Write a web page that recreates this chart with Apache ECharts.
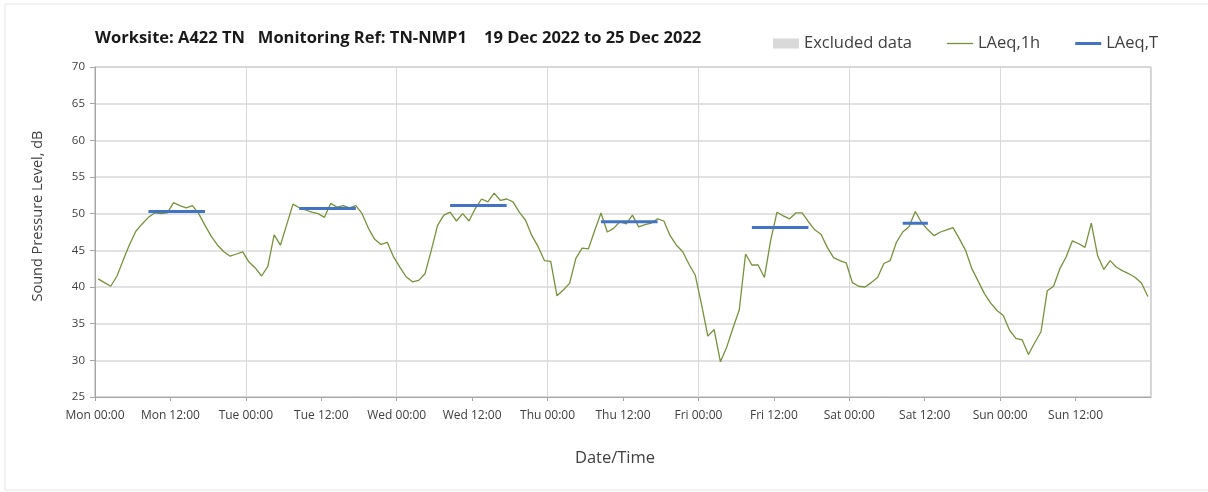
<!DOCTYPE html>
<html>
<head>
<meta charset="utf-8">
<script src="https://cdn.jsdelivr.net/npm/echarts@6/dist/echarts.min.js"></script>
<style>
html,body{margin:0;padding:0;background:#fff;}
#chart{width:1208px;height:492px;}
</style>
</head>
<body>
<div id="chart"></div>
<script>
// ---- data ----
const titleText = 'Worksite: A422 TN   Monitoring Ref: TN-NMP1    19 Dec 2022 to 25 Dec 2022';
const dayNames = ['Mon', 'Tue', 'Wed', 'Thu', 'Fri', 'Sat', 'Sun'];
const hourLabels = ['00:00', '12:00'];
const yTicks = [25, 30, 35, 40, 45, 50, 55, 60, 65, 70];

// hourly LAeq,1h values, Mon 00:00 .. Sun 23:00
const laeq1hMon = [41.1, 40.6, 40.1, 41.5, 43.7, 45.8, 47.6, 48.6, 49.5, 50.1, 50.0, 50.1, 51.5, 51.1, 50.8, 51.1, 50.0, 48.4, 46.9, 45.7, 44.8, 44.2, 44.5, 44.8];
const laeq1hTue = [43.4, 42.6, 41.5, 42.8, 47.1, 45.7, 48.5, 51.3, 50.8, 50.5, 50.2, 50.0, 49.5, 51.4, 50.9, 51.1, 50.8, 51.1, 50.0, 48.0, 46.5, 45.8, 46.1, 44.1];
const laeq1hWed = [42.7, 41.4, 40.7, 40.9, 41.8, 45.0, 48.4, 49.8, 50.2, 49.0, 50.0, 49.0, 50.7, 52.0, 51.6, 52.8, 51.8, 52.0, 51.6, 50.2, 49.1, 47.0, 45.5, 43.6];
const laeq1hThu = [43.5, 38.8, 39.6, 40.5, 43.9, 45.3, 45.2, 47.7, 50.1, 47.5, 48.0, 48.9, 48.6, 49.8, 48.2, 48.5, 48.7, 49.3, 49.0, 47.0, 45.7, 44.8, 43.1, 41.6];
const laeq1hFri = [37.6, 33.3, 34.2, 29.8, 31.8, 34.4, 36.9, 44.5, 43.0, 43.0, 41.3, 46.4, 50.2, 49.7, 49.3, 50.1, 50.1, 48.9, 47.8, 47.2, 45.4, 44.0, 43.6, 43.3];
const laeq1hSat = [40.6, 40.1, 40.0, 40.6, 41.3, 43.2, 43.6, 46.1, 47.5, 48.2, 50.3, 48.8, 47.8, 47.0, 47.5, 47.8, 48.1, 46.6, 45.0, 42.5, 40.8, 39.1, 37.8, 36.8];
const laeq1hSun = [36.1, 34.1, 33.0, 32.8, 30.8, 32.4, 33.9, 39.5, 40.1, 42.5, 44.1, 46.3, 45.9, 45.4, 48.7, 44.3, 42.4, 43.6, 42.7, 42.2, 41.8, 41.3, 40.5, 38.7];

// LAeq,T daytime periods (start hour index, end hour index, level)
const laeqTStart = [8, 32, 56, 80, 104, 128];
const laeqTEnd = [17, 41, 65, 89, 113, 132];
const laeqTValue = [50.3, 50.7, 51.1, 48.9, 48.1, 48.7];

// ---- build ----
const laeq1h = [].concat(laeq1hMon, laeq1hTue, laeq1hWed, laeq1hThu, laeq1hFri, laeq1hSat, laeq1hSun);
// points sit at the centre of each hourly period
const lineData = laeq1h.map((v, i) => [i + 0.5, v]);

const green = '#76923c';
const blue = '#4472c4';
const textCol = '#404040';
const fontFam = '"Open Sans", Lato, sans-serif';

const seriesT = laeqTStart.map((s, k) => ({
  name: 'LAeq,T',
  type: 'line',
  data: [[s + 0.5, laeqTValue[k]], [laeqTEnd[k] + 0.5, laeqTValue[k]]],
  showSymbol: false,
  symbol: 'none',
  lineStyle: { color: blue, width: 3 },
  itemStyle: { color: blue },
  z: 5
}));

const chart = echarts.init(document.getElementById('chart'), null, { renderer: 'canvas' });
chart.setOption({
  animation: false,
  backgroundColor: '#fff',
  graphic: [{
    type: 'rect',
    shape: { x: 5, y: 4, width: 1210, height: 486 },
    style: { fill: 'none', stroke: '#e6e6e6', lineWidth: 1 },
    silent: true, z: -10
  }],
  title: {
    text: titleText,
    left: 95, top: 30, padding: 0,
    textStyle: { fontFamily: fontFam, fontSize: 16.5, fontWeight: 'bold', color: '#1a1a1a' }
  },
  legend: {
    right: 50, top: 35, padding: 0,
    itemGap: 35,
    itemWidth: 26, itemHeight: 10,
    textStyle: { fontFamily: fontFam, fontSize: 16.5, color: textCol },
    data: [
      { name: 'Excluded data', icon: 'rect', itemStyle: { color: '#d9d9d9' } },
      { name: 'LAeq,1h', icon: 'path://M0,0H26V1.3H0Z', itemStyle: { color: green } },
      { name: 'LAeq,T', icon: 'path://M0,0H26V3H0Z', itemStyle: { color: blue } }
    ]
  },
  grid: {
    left: 95, right: 57, top: 67, bottom: 95,
    show: true, borderColor: '#a6a6a6', borderWidth: 1
  },
  xAxis: [{
    type: 'value',
    min: 0, max: 168, interval: 12,
    name: 'Date/Time',
    nameLocation: 'middle',
    nameGap: 53,
    nameTextStyle: { fontFamily: fontFam, fontSize: 16.5, color: textCol, padding: [0, 16, 0, 0] },
    axisLine: { lineStyle: { color: '#a6a6a6' } },
    axisTick: { show: true, length: 4, lineStyle: { color: '#a6a6a6' } },
    splitLine: { show: false },
    axisLabel: {
      fontFamily: fontFam, fontSize: 12, color: textCol, margin: 13,
      showMaxLabel: false,
      formatter: function (v) {
        if (v >= 168) return '';
        return dayNames[Math.floor(v / 24)] + ' ' + hourLabels[(v % 24) / 12];
      }
    }
  }, {
    type: 'value',
    min: 0, max: 168, interval: 24,
    position: 'bottom',
    axisLine: { show: false }, axisTick: { show: false }, axisLabel: { show: false },
    splitLine: { show: true, lineStyle: { color: '#d9d9d9', width: 1 } }
  }],
  yAxis: {
    type: 'value',
    min: yTicks[0], max: yTicks[yTicks.length - 1], interval: 5,
    name: 'Sound Pressure Level, dB',
    nameLocation: 'middle',
    nameGap: 50,
    nameTextStyle: { fontFamily: fontFam, fontSize: 14.5, color: textCol, padding: [0, 0, 0, 32] },
    axisLine: { show: true, lineStyle: { color: '#a6a6a6' } },
    axisTick: { show: true, length: 5, lineStyle: { color: '#a6a6a6' } },
    axisLabel: { fontFamily: fontFam, fontSize: 11.5, color: textCol, margin: 10 },
    splitLine: { show: true, lineStyle: { color: '#d9d9d9', width: 1.5 } }
  },
  series: [{
    name: 'Excluded data',
    type: 'bar',
    data: [],
    itemStyle: { color: '#d9d9d9' }
  }, {
    name: 'LAeq,1h',
    type: 'line',
    data: lineData,
    showSymbol: false,
    symbol: 'none',
    lineStyle: { color: green, width: 1.3 },
    itemStyle: { color: green },
    z: 4
  }].concat(seriesT)
});
</script>
</body>
</html>
